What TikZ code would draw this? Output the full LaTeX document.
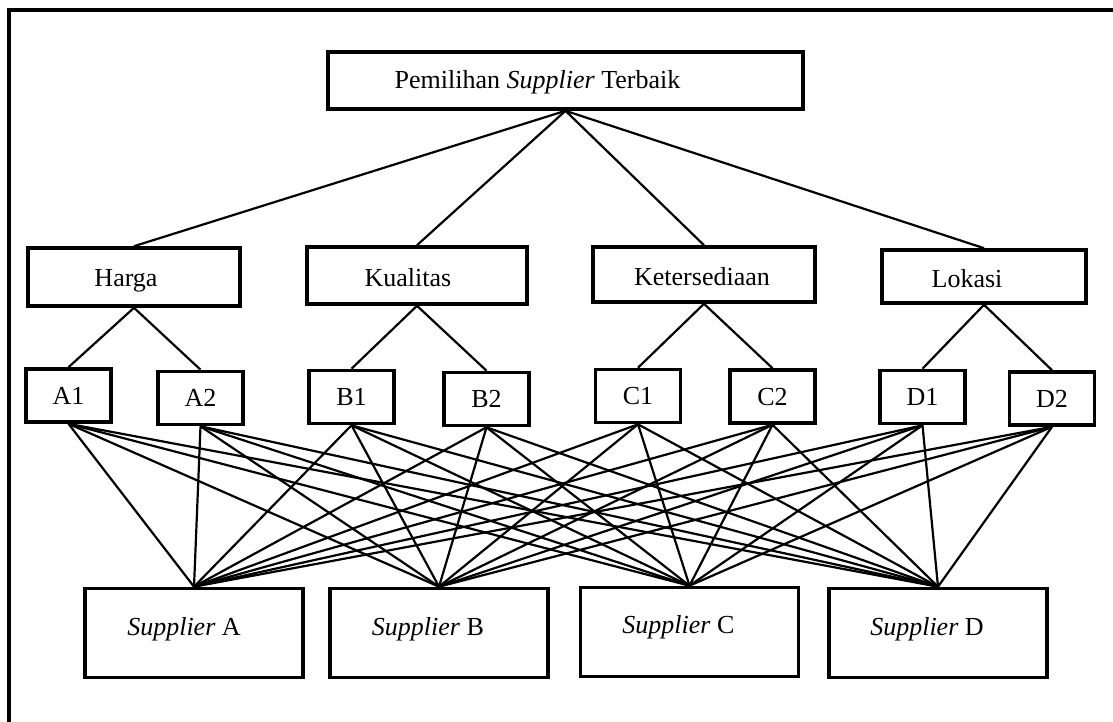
\documentclass[tikz,border=0pt]{standalone}
\usepackage{fontspec}
\setmainfont{Liberation Serif}
\usepackage{tikz}

\begin{document}
\begin{tikzpicture}[x=0.5pt, y=-0.5pt,
		font=\fontsize{13pt}{15pt}\selectfont,
		every label/.style={text height=8.6pt, text depth=0pt, inner sep=0pt},
		box/.style={draw, line width=1.8pt, inner sep=0pt},
		subbox/.style={box, minimum width=42.5pt, minimum height=26.5pt, text height=8.6pt, text depth=0pt},
		supbox/.style={box, minimum width=109pt, minimum height=44.5pt},
		link/.style={line width=1.1pt}]

		\useasboundingbox (0,0) rectangle (1113,722);
		\draw[line width=2pt] (1113,10) -- (9,10) -- (9,722);

		% goal
		\node[box, minimum width=237.5pt, minimum height=28.5pt,
			label={[xshift=-14pt, yshift=0.5pt]center:Pemilihan \textit{Supplier} Terbaik}] (goal) at (565.5,80.5) {};

		% criteria
		\node[box, minimum width=106pt, minimum height=29pt, label={[xshift=-4pt, yshift=-0.5pt]center:Harga}] (harga) at (134,277) {};
		\node[box, minimum width=110pt, minimum height=28.5pt, label={[xshift=-4.5pt, yshift=-1pt]center:Kualitas}] (kualitas) at (417,275.5) {};
		\node[box, minimum width=111pt, minimum height=27.5pt, label={[xshift=-1pt, yshift=-1pt]center:Ketersediaan}] (sedia) at (704,274.5) {};
		\node[box, minimum width=102pt, minimum height=26.5pt, label={[xshift=-8.5pt, yshift=-1pt]center:Lokasi}] (lokasi) at (984,276.5) {};

		% sub criteria
		\node[subbox] (a1) at (68.5,395.5) {A1};
		\node[subbox] (a2) at (200.5,398) {A2};
		\node[subbox] (b1) at (351.5,397) {B1};
		\node[subbox] (b2) at (486.5,399) {B2};
		\node[subbox] (c1) at (638,396) {C1};
		\node[subbox] (c2) at (772.5,396.5) {C2};
		\node[subbox] (d1) at (922.5,397) {D1};
		\node[subbox] (d2) at (1052,398.5) {D2};

		% alternatives
		\node[supbox, label={[xshift=-5pt, yshift=3pt]center:\textit{Supplier} A}] (supA) at (194,633) {};
		\node[supbox, label={[xshift=-5.5pt, yshift=3pt]center:\textit{Supplier} B}] (supB) at (439,633) {};
		\node[supbox, label={[xshift=-5.5pt, yshift=3.5pt]center:\textit{Supplier} C}] (supC) at (689.5,632) {};
		\node[supbox, label={[xshift=-5.5pt, yshift=3pt]center:\textit{Supplier} D}] (supD) at (938,633) {};

		\foreach \c in {harga, kualitas, sedia, lokasi}
			\draw[link] (goal.south) -- (\c.north);

		\draw[link] (harga.south) -- (a1.north);
		\draw[link] (harga.south) -- (a2.north);
		\draw[link] (kualitas.south) -- (b1.north);
		\draw[link] (kualitas.south) -- (b2.north);
		\draw[link] (sedia.south) -- (c1.north);
		\draw[link] (sedia.south) -- (c2.north);
		\draw[link] (lokasi.south) -- (d1.north);
		\draw[link] (lokasi.south) -- (d2.north);

		\foreach \s in {a1, a2, b1, b2, c1, c2, d1, d2}
			\foreach \t in {supA, supB, supC, supD}
				\draw[link] (\s.south) -- (\t.north);
	\end{tikzpicture}
\end{document}
